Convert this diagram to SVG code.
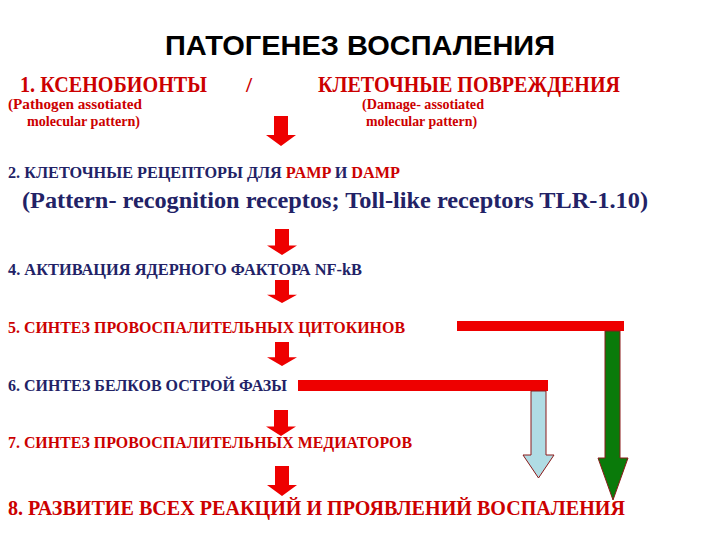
<svg xmlns="http://www.w3.org/2000/svg" width="720" height="540" viewBox="0 0 720 540">
<style>
.red{fill:#cc0000}
.navy{fill:#222266}
.arr{fill:#ee0000}
.bar{fill:#ee0000}
</style>
<defs>
<path id="dn" d="M-7,0 H7 V19 H15 L0,30 L-15,19 H-7 Z"/>
</defs>
<rect width="720" height="540" fill="#fff"/>
<g id="title"><text x="360" y="55" text-anchor="middle" font-family="Liberation Sans, Arial, sans-serif" font-weight="bold" font-size="27" fill="#000" textLength="390" lengthAdjust="spacingAndGlyphs">ПАТОГЕНЕЗ ВОСПАЛЕНИЯ</text></g>
<g font-family="Times New Roman, Liberation Serif, DejaVu Serif, serif" font-weight="bold">
<g id="n1">
<text class="red" x="20" y="92" font-size="23" textLength="187" lengthAdjust="spacingAndGlyphs">1. КСЕНОБИОНТЫ</text>
<text class="red" x="246" y="92" font-size="22">/</text>
<text class="red" x="318" y="92" font-size="23" textLength="302" lengthAdjust="spacingAndGlyphs">КЛЕТОЧНЫЕ ПОВРЕЖДЕНИЯ</text>
<text class="red" x="8" y="109" font-size="14" textLength="134" lengthAdjust="spacingAndGlyphs">(Pathogen assotiated</text>
<text class="red" x="27" y="126" font-size="14" textLength="113" lengthAdjust="spacingAndGlyphs">molecular pattern)</text>
<text class="red" x="362" y="109" font-size="14" textLength="122" lengthAdjust="spacingAndGlyphs">(Damage- assotiated</text>
<text class="red" x="366" y="126" font-size="14" textLength="111" lengthAdjust="spacingAndGlyphs">molecular pattern)</text>
</g>
<g id="n2">
<text class="navy" x="8" y="178" font-size="16" textLength="392" lengthAdjust="spacingAndGlyphs">2. КЛЕТОЧНЫЕ РЕЦЕПТОРЫ ДЛЯ <tspan class="red">PAMP</tspan> И  <tspan class="red">DAMP</tspan></text>
<text class="navy" x="22" y="208" font-size="24" textLength="626" lengthAdjust="spacingAndGlyphs">(Pattern- recognition receptos; Toll-like receptors TLR-1.10)</text>
</g>
<g id="n4"><text class="navy" x="8" y="275" font-size="16" textLength="354" lengthAdjust="spacingAndGlyphs">4. АКТИВАЦИЯ ЯДЕРНОГО ФАКТОРА  NF-kB</text></g>
<g id="n5"><text class="red" x="8" y="333" font-size="16" textLength="397" lengthAdjust="spacingAndGlyphs">5. СИНТЕЗ ПРОВОСПАЛИТЕЛЬНЫХ ЦИТОКИНОВ</text></g>
<g id="n6"><text class="navy" x="8" y="391" font-size="16" textLength="279" lengthAdjust="spacingAndGlyphs">6. СИНТЕЗ БЕЛКОВ ОСТРОЙ ФАЗЫ</text></g>
<g id="n7"><text class="red" x="8" y="448" font-size="16" textLength="404" lengthAdjust="spacingAndGlyphs">7. СИНТЕЗ ПРОВОСПАЛИТЕЛЬНЫХ МЕДИАТОРОВ</text></g>
<g id="n8"><text class="red" x="8" y="515" font-size="22" textLength="617" lengthAdjust="spacingAndGlyphs">8. РАЗВИТИЕ ВСЕХ РЕАКЦИЙ И ПРОЯВЛЕНИЙ ВОСПАЛЕНИЯ</text></g>
</g>
<g id="connectors">
<use href="#dn" class="arr" transform="translate(281,116)"/>
<use href="#dn" class="arr" transform="translate(282,229) scale(1,0.87)"/>
<use href="#dn" class="arr" transform="translate(282,280) scale(1,0.77)"/>
<use href="#dn" class="arr" transform="translate(282,342) scale(1,0.8)"/>
<use href="#dn" class="arr" transform="translate(281,410) scale(1,0.87)"/>
<use href="#dn" class="arr" transform="translate(282,466)"/>
<rect class="bar" x="457" y="321" width="167" height="10"/>
<path d="M605,331 H620 V458 H628 L613,500 L598,458 H605 Z" fill="#0a7a0a" stroke="#8b1a1a" stroke-width="1"/>
<rect class="bar" x="298" y="380" width="250" height="11"/>
<path d="M531,391 H546 V455 H554 L538.5,478 L523,455 H531 Z" fill="#b0dce4" stroke="#8b1a1a" stroke-width="1"/>
</g>
</svg>
